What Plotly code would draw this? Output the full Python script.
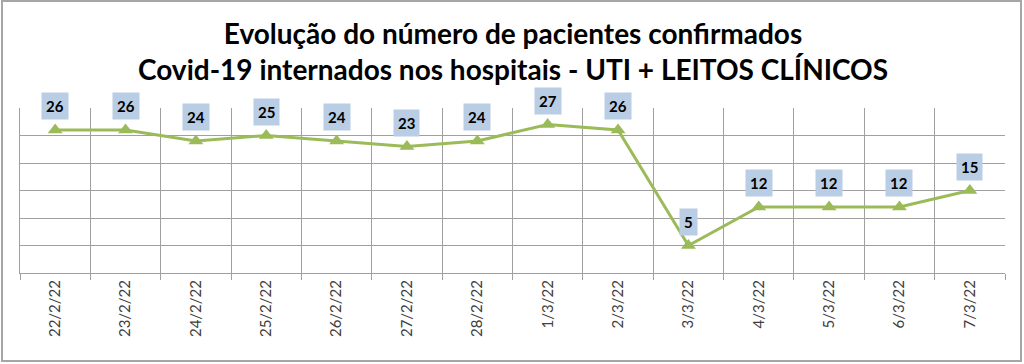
import plotly.graph_objects as go

dates = ["22/2/22", "23/2/22", "24/2/22", "25/2/22", "26/2/22", "27/2/22", "28/2/22",
         "1/3/22", "2/3/22", "3/3/22", "4/3/22", "5/3/22", "6/3/22", "7/3/22"]
values = [26, 26, 24, 25, 24, 23, 24, 27, 26, 5, 12, 12, 12, 15]
title_lines = ["Evolução do número de pacientes confirmados",
               "Covid-19 internados nos hospitais - UTI + LEITOS CLÍNICOS"]

fig = go.Figure()
fig.add_trace(go.Scatter(
    x=dates, y=values, mode="lines+markers",
    line=dict(color="#9BBB59", width=3),
    marker=dict(symbol="triangle-up", size=13, color="#9BBB59"),
    hoverinfo="skip", showlegend=False,
))

for d, v in zip(dates, values):
    fig.add_annotation(
        x=d, y=v, text=f"<b>{v}</b>", showarrow=False, yshift=24,
        bgcolor="#B9CDE5", borderpad=4,
        font=dict(family="Lato, Open Sans, sans-serif", size=15, color="#000000"),
    )

fig.add_annotation(
    xref="paper", yref="paper", x=0.5, y=(273 - 51) / 165,
    text="<b>" + title_lines[0] + "<br>" + title_lines[1] + "</b>",
    showarrow=False, yanchor="middle", xanchor="center",
    font=dict(family="Lato, Open Sans, sans-serif", size=28, color="#000000"),
)

# outer chart border
fig.add_shape(type="rect", xref="paper", yref="paper",
              x0=-18 / 985, x1=(1021 - 20) / 985,
              y0=(273 - 361) / 165, y1=(273 - 1) / 165,
              line=dict(color="#A6A6A6", width=2), fillcolor="rgba(0,0,0,0)", layer="below")

fig.update_layout(
    width=1024, height=364,
    margin=dict(l=20, r=19, t=108, b=91, autoexpand=False),
    paper_bgcolor="white", plot_bgcolor="white",
    xaxis=dict(
        type="category", tickson="boundaries", tickangle=-90, automargin=False,
        showgrid=True, gridcolor="#A0A0A0", gridwidth=1,
        showline=True, linecolor="#A0A0A0", linewidth=1,
        ticks="outside", ticklen=6, tickcolor="#A0A0A0",
        tickfont=dict(family="Lato, Open Sans, sans-serif", size=15, color="#404040"),
        mirror=False, range=[-0.5, 13.5],
    ),
    yaxis=dict(
        range=[0, 30], dtick=5, showticklabels=False, automargin=False,
        showgrid=True, gridcolor="#A0A0A0", gridwidth=1,
        showline=True, linecolor="#A0A0A0", linewidth=1,
        zeroline=False,
    ),
)

fig.write_html("out.html", config={"displayModeBar": False},
               post_script="document.body.style.margin='0';")
